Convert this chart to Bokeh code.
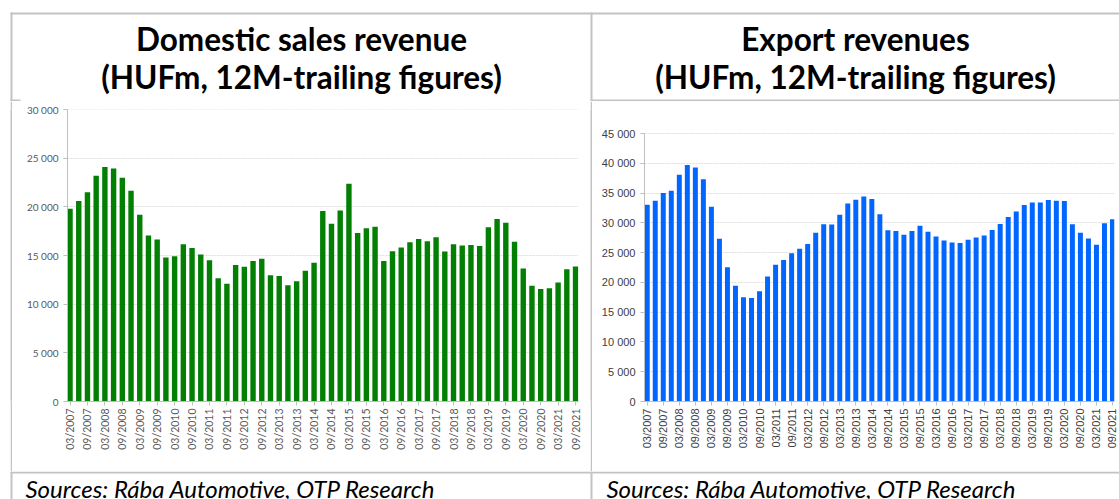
import math
from bokeh.plotting import figure
from bokeh.layouts import row, column
from bokeh.models import Range1d, FixedTicker, ColumnDataSource, Spacer
from bokeh.core.properties import value
from bokeh.embed import file_html
from bokeh.resources import INLINE

# ---- data (HUFm, 12M-trailing, quarterly 03/2007 .. 09/2021) ----
years = list(range(2007, 2022))
months = ["03", "06", "09", "12"]
periods = [f"{m}/{y}" for y in years for m in months][:59]

domestic = [19800, 20600, 21500, 23200, 24100, 23950, 23000, 21660, 19200, 17050,
            16640, 14800, 14930, 16160, 15780, 15100, 14520, 12670, 12090, 14040,
            13840, 14450, 14660, 12980, 12910, 11960, 12370, 13430, 14250, 19580,
            18280, 19640, 22380, 17320, 17800, 17970, 14450, 15440, 15820, 16360,
            16710, 16470, 16880, 15410, 16160, 16020, 16090, 15990, 17900, 18760,
            18380, 16430, 13670, 11890, 11550, 11650, 12230, 13600, 13870]

export = [33030, 33710, 35000, 35400, 38060, 39700, 39300, 37320, 32690, 27330,
          22530, 19420, 17500, 17390, 18520, 21000, 22980, 23770, 24900, 25640,
          26430, 28350, 29760, 29700, 31340, 33260, 33880, 34440, 33990, 31450,
          28740, 28630, 28000, 28630, 29530, 28520, 27720, 27050, 26710, 26600,
          27160, 27550, 27890, 28800, 29810, 31000, 31900, 32980, 33430, 33430,
          33820, 33710, 33650, 29760, 28350, 27390, 26310, 29930, 30600]

domestic_yticks = [0, 5000, 10000, 15000, 20000, 25000, 30000]
domestic_ylabels = ["0", "5 000", "10 000", "15 000", "20 000", "25 000", "30 000"]
export_yticks = [0, 5000, 10000, 15000, 20000, 25000, 30000, 35000, 40000, 45000]
export_ylabels = ["0", "5 000", "10 000", "15 000", "20 000", "25 000", "30 000",
                  "35 000", "40 000", "45 000"]

title_left = ["Domestic sales revenue", "(HUFm, 12M-trailing figures)"]
title_right = ["Export revenues", "(HUFm, 12M-trailing figures)"]
source_text = "Sources: Rába Automotive, OTP Research"

BORDER = "#c3c3c3"
W = 1119
HEAD_H = 101
CHART_H = 370
FOOT_H = 28


def blank_fig(width, height, y0, y1):
    p = figure(width=width, height=height, output_backend="svg", toolbar_location=None,
               x_range=Range1d(0, width), y_range=Range1d(y1, y0),
               min_border=0, min_border_left=0, min_border_right=0,
               min_border_top=0, min_border_bottom=0)
    p.axis.visible = False
    p.grid.visible = False
    p.outline_line_color = None
    p.background_fill_color = "white"
    p.border_fill_color = "white"
    return p


def gray_strip(width, height):
    p = figure(width=width, height=height, output_backend="svg", toolbar_location=None,
               min_border=0, min_border_left=0, min_border_right=0,
               min_border_top=0, min_border_bottom=0)
    p.axis.visible = False
    p.grid.visible = False
    p.outline_line_color = None
    p.background_fill_color = BORDER
    p.border_fill_color = BORDER
    return p


def chart(values, yticks, ylabels, ymax, bound, color, width, mb_left, mb_right,
          xr, tick_font, ytick_size, xtick_size, label_color):
    idx = list(range(len(values)))
    src = ColumnDataSource(dict(x=idx, top=values, period=periods))
    p = figure(width=width, height=CHART_H, output_backend="svg", toolbar_location=None,
               x_range=Range1d(*xr), y_range=Range1d(0, ymax),
               min_border_left=mb_left, min_border_right=mb_right,
               min_border_top=8, min_border_bottom=70)
    p.vbar(x="x", top="top", bottom=0, width=0.62, source=src,
           fill_color=color, line_color=None)
    p.outline_line_color = None
    p.background_fill_color = "white"
    p.border_fill_color = "white"
    p.xgrid.grid_line_color = None
    p.ygrid.grid_line_color = "#dedede"
    p.ygrid.grid_line_dash = "2 1"
    p.ygrid.ticker = FixedTicker(ticks=yticks)

    p.yaxis.ticker = FixedTicker(ticks=yticks)
    p.yaxis.bounds = (0, bound)
    p.yaxis.major_label_overrides = {t: l for t, l in zip(yticks, ylabels)}
    p.yaxis.axis_line_color = "#bfbfbf"
    p.yaxis.major_tick_line_color = "#bfbfbf"
    p.yaxis.major_tick_out = 4
    p.yaxis.major_tick_in = 0
    p.yaxis.minor_tick_line_color = None
    p.yaxis.major_label_standoff = 5
    p.yaxis.major_label_text_font = tick_font
    p.yaxis.major_label_text_font_size = ytick_size
    p.yaxis.major_label_text_color = label_color

    xt = idx[::2]
    p.xaxis.ticker = FixedTicker(ticks=xt)
    p.xaxis.major_label_overrides = {i: periods[i] for i in xt}
    p.xaxis.major_label_orientation = math.pi / 2
    p.xaxis.axis_line_color = "#bfbfbf"
    p.xaxis.major_tick_line_color = "#bfbfbf"
    p.xaxis.major_tick_out = 4
    p.xaxis.major_tick_in = 0
    p.xaxis.minor_tick_line_color = None
    p.xaxis.major_label_standoff = 3
    p.xaxis.major_label_text_font = tick_font
    p.xaxis.major_label_text_font_size = xtick_size
    p.xaxis.major_label_text_color = label_color
    return p


# ---- header: top border + titles ----
head = blank_fig(W, HEAD_H, 0, HEAD_H)
head.quad(left=[10, 10, 590, 590, 10], right=[W, 12, 592, W, 20],
          top=[12, 12, 12, 99, 99], bottom=[14, HEAD_H, HEAD_H, 101, 101],
          fill_color=BORDER, line_color=None)
head.text(x=[301, 301, 855, 855], y=[38, 76, 38, 76],
          text=[title_left[0], title_left[1], title_right[0], title_right[1]],
          text_align="center", text_baseline="alphabetic",
          text_font=value("Lato"), text_font_style="bold",
          text_font_size="31.5px", text_color="black")

# ---- charts ----
left = chart(domestic, domestic_yticks, domestic_ylabels, 30010, 30000, "#038003",
             578, 55, 12, (-0.29, 58.34), "Lato", "10px", "10.5px", "#595959")
# right frame: 0 at page y 401, 45000 at page y 133 -> extend range above 45000
right_end = 45000 + 24 * 45000 / 268
right = chart(export, export_yticks, export_ylabels, right_end, 45000, "#0066ff",
              527, 52, 5, (-0.34, 58.25), "Liberation Sans", "11px", "11px", "#404040")

middle = row(Spacer(width=10, height=CHART_H), gray_strip(2, CHART_H), left,
             gray_strip(2, CHART_H), right)

# ---- footer: separator + sources ----
foot = blank_fig(W, FOOT_H, 471, 471 + FOOT_H)
foot.quad(left=[10, 10, 590], right=[W, 12, 592], top=[471, 471, 471],
          bottom=[473, 471 + FOOT_H, 471 + FOOT_H], fill_color=BORDER, line_color=None)
foot.text(x=[25, 606], y=[488, 488], text=[source_text, source_text],
          text_align="left", text_baseline="alphabetic",
          text_font=value("Lato"), text_font_style="italic",
          text_font_size="24px", text_color="black")

layout = column(head, middle, foot)
open("out.html", "w").write(file_html(layout, INLINE))
